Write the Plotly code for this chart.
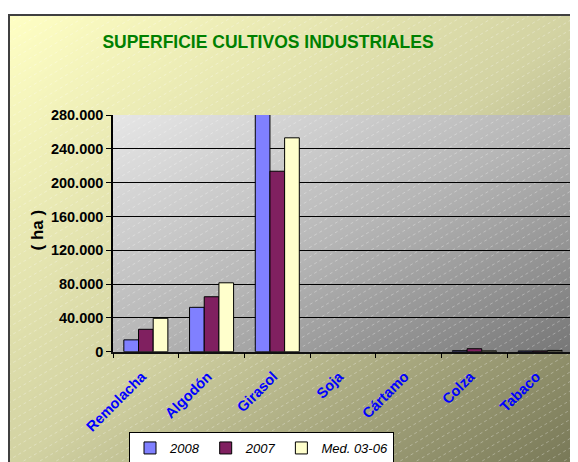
import numpy as np
import plotly.graph_objects as go

# Datos (ha)
categorias = ["Remolacha", "Algodón", "Girasol", "Soja", "Cártamo", "Colza", "Tabaco"]
sup_2008 = [14000, 52500, 284500, None, None, 1200, 800]
sup_2007 = [26500, 65000, 213500, None, None, 3500, 900]
sup_media = [39500, 81500, 253000, None, None, 1000, 1500]
series = ["2008", "2007", "Med. 03-06"]
colores = ["#8080FF", "#802060", "#FFFFCC"]

W, H = 578, 462
# área de trazado en píxeles de la figura
PX0, PX1, PY0, PY1 = 105, 565, 107, 343.7
FUENTE = "Liberation Sans, Arial, sans-serif"


def degradado(x0, x1, y0, y1, nx=48, ny=40):
    """Rejilla diagonal 0..1 (arriba-izquierda -> abajo-derecha) para un heatmap de fondo."""
    xe = np.linspace(x0, x1, nx + 1)
    ye = np.linspace(y0, y1, ny + 1)
    xc = (xe[:-1] + xe[1:]) / 2
    yc = (ye[:-1] + ye[1:]) / 2
    X, Y = np.meshgrid((xc - x0) / (x1 - x0), (yc - y0) / (y1 - y0))
    return xe, ye, (X + Y) / 2


fig = go.Figure()

# fondo del gráfico (amarillo -> oliva)
xe, ye, z = degradado(0, W, 6, H)
fig.add_trace(go.Heatmap(
    x=xe, y=ye, z=z, zsmooth="best", showscale=False, hoverinfo="skip",
    zmin=0, zmax=1,
    colorscale=[[0, "#FFFFC4"], [0.5, "#D2D2A2"], [1, "#747454"]],
))

# fondo del área de trazado (gris claro -> gris oscuro)
xe, ye, z = degradado(PX0, PX1, PY0, PY1)
fig.add_trace(go.Heatmap(
    x=xe, y=ye, z=z, zsmooth="best", showscale=False, hoverinfo="skip",
    zmin=0, zmax=1,
    colorscale=[[0, "#E6E6E6"], [0.5, "#B6B6B6"], [1, "#767676"]],
))

# trama diagonal
pend = 0.58
hx, hy = [], []
for c in np.arange(6, H + pend * W, 9.5):
    xa = max(0, (c - H) / pend)
    xb = min(W, (c - 6) / pend)
    if xb <= xa:
        continue
    hx += [xa, xb, None]
    hy += [c - pend * xa, c - pend * xb, None]
fig.add_trace(go.Scatter(
    x=hx, y=hy, mode="lines", hoverinfo="skip", showlegend=False,
    line=dict(color="rgba(255,255,255,0.3)", width=1, dash="dot"),
))

for nombre, valores, color in zip(series, [sup_2008, sup_2007, sup_media], colores):
    fig.add_trace(go.Bar(
        x=categorias, y=valores, name=nombre,
        marker=dict(color=color, line=dict(color="black", width=1)),
        xaxis="x2", yaxis="y2", cliponaxis=False,
    ))

fig.update_traces(showlegend=False, selector=dict(type="heatmap"))

fig.update_layout(
    width=W, height=H,
    margin=dict(l=0, r=0, t=0, b=0, autoexpand=False),
    paper_bgcolor="white",
    plot_bgcolor="rgba(0,0,0,0)",
    separators=",.",
    barmode="group", bargap=0.33, bargroupgap=0,
    font=dict(family=FUENTE),
    title=dict(
        text="<b>SUPERFICIE CULTIVOS INDUSTRIALES</b>",
        x=260 / W, y=1 - 34 / H, xref="paper", yref="paper",
        xanchor="center", yanchor="middle",
        font=dict(family=FUENTE, size=17.5, color="#008000"),
    ),
    xaxis=dict(domain=[0, 1], range=[0, W], visible=False, fixedrange=True),
    yaxis=dict(domain=[0, 1], range=[H, 0], visible=False, fixedrange=True),
    xaxis2=dict(
        domain=[PX0 / W, PX1 / W], anchor="y2",
        tickangle=-45, tickson="boundaries", ticks="outside", ticklen=5,
        tickcolor="black", showline=True, linecolor="#111111", linewidth=1.5,
        showgrid=False, ticklabelstandoff=9, ticklabelshift=-4,
        tickfont=dict(size=14.5, color="#0000FF", weight="bold"),
    ),
    yaxis2=dict(
        domain=[1 - PY1 / H, 1 - PY0 / H], anchor="x2",
        range=[0, 280000], tickvals=list(range(0, 280001, 40000)),
        tickformat=",.0f", ticks="outside", ticklen=5, tickcolor="black",
        showline=True, linecolor="black", linewidth=1.5,
        showgrid=True, gridcolor="black", gridwidth=1, zeroline=False,
        tickfont=dict(size=14.5, color="black", weight="bold"),
    ),
    legend=dict(
        orientation="h", x=121 / W, y=1 - 424 / H, xanchor="left", yanchor="top",
        bgcolor="white", bordercolor="black", borderwidth=1,
        font=dict(size=13, color="black", style="italic"),
    ),
)

for tr in fig.data:
    if tr.type == "bar":
        tr.showlegend = True

# borde del gráfico y borde superior del área de trazado
fig.add_shape(type="rect", xref="x", yref="y", x0=1, y0=7, x1=W + 10, y1=H + 10,
              line=dict(color="#404040", width=2), layer="above")
fig.add_shape(type="line", xref="x2 domain", yref="y2 domain", x0=0, x1=1, y0=1, y1=1,
              line=dict(color="#777777", width=2), layer="below")

fig.add_annotation(
    text="<b>( ha )</b>", textangle=-90, showarrow=False,
    xref="paper", yref="paper", x=17 / W, y=1 - 222 / H,
    font=dict(size=17, color="black"),
)

fig.write_html("out.html")
